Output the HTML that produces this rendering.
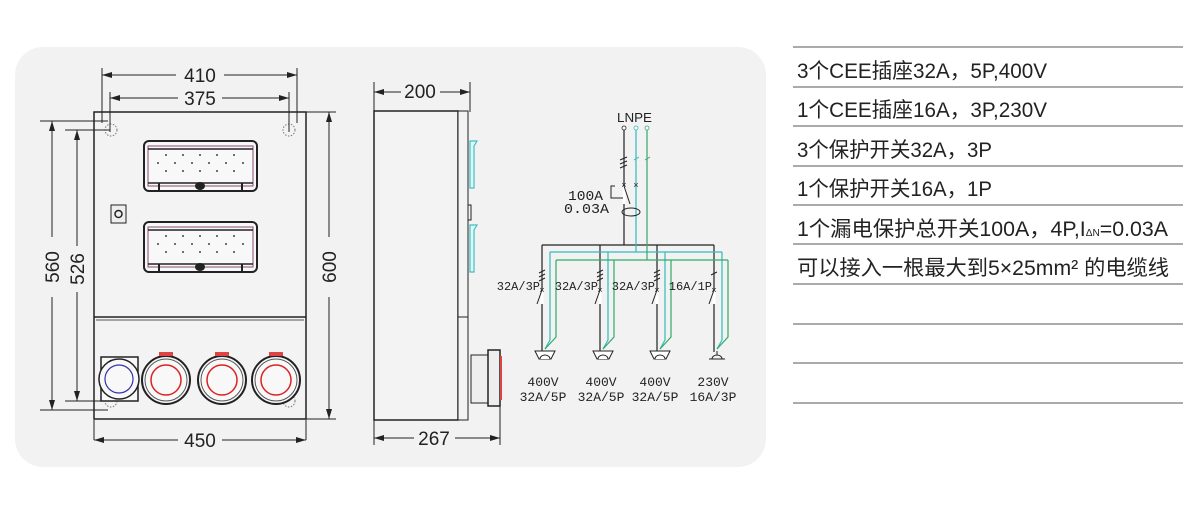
<!DOCTYPE html>
<html><head><meta charset="utf-8"><style>
html,body{margin:0;padding:0;background:#fff;}
svg{display:block;}
.t{font-family:"Liberation Sans","Noto Sans CJK SC",sans-serif;}
.m{font-family:"Liberation Mono",monospace;}
</style></head><body>
<svg width="1199" height="514" viewBox="0 0 1199 514" xmlns="http://www.w3.org/2000/svg">
<defs>
<marker id="a" viewBox="0 0 10 6" refX="10" refY="3" markerWidth="10" markerHeight="6" orient="auto-start-reverse"><path d="M0,0L10,3L0,6z" fill="#222"/></marker>
<g id="mod">
<rect x="0" y="0" width="113" height="50" rx="5" fill="#f8f8f8" stroke="#222" stroke-width="2"/>
<rect x="4" y="5" width="105" height="40" fill="none" stroke="#8a4a70" stroke-width="1"/>
<line x1="4" y1="8" x2="109" y2="8" stroke="#222" stroke-width="1.5"/>
<line x1="4" y1="42" x2="109" y2="42" stroke="#222" stroke-width="1.5"/>
<g fill="#444"><circle cx="22" cy="14" r="1"/><circle cx="39" cy="14" r="1"/><circle cx="56" cy="14" r="1"/><circle cx="73" cy="14" r="1"/><circle cx="90" cy="14" r="1"/>
<circle cx="14" cy="22" r="1"/><circle cx="31" cy="22" r="1"/><circle cx="48" cy="22" r="1"/><circle cx="65" cy="22" r="1"/><circle cx="82" cy="22" r="1"/><circle cx="99" cy="22" r="1"/>
<circle cx="22" cy="30" r="1"/><circle cx="39" cy="30" r="1"/><circle cx="56" cy="30" r="1"/><circle cx="73" cy="30" r="1"/><circle cx="90" cy="30" r="1"/></g>
<ellipse cx="56" cy="45" rx="5" ry="4" fill="#222"/>
<path d="M15,42v8M98,42v8" stroke="#222" stroke-width="2"/>
</g>
<g id="rs"><circle r="24" fill="#f8f8f8" stroke="#222" stroke-width="2"/><circle r="21" fill="none" stroke="#555"/><circle r="15" fill="none" stroke="#d22" stroke-width="1.5"/><rect x="-7" y="-28" width="14" height="4" fill="#d44"/></g>
<g id="sk"><path d="M-10,0h20l-4,8h-12z" fill="#fff" stroke="#222"/><path d="M-5,8a5,4 0 0 1 10,0" fill="#fff" stroke="#222"/></g>
</defs>
<rect x="15" y="47" width="751" height="420" rx="28" fill="#f2f2f2"/>
<!-- front view -->
<rect x="94" y="112" width="212" height="307" fill="#f3f3f3" stroke="#222" stroke-width="1.5"/>
<line x1="94" y1="317" x2="306" y2="317" stroke="#222" stroke-width="1.5"/>
<line x1="96" y1="320" x2="304" y2="320" stroke="#555"/>
<use href="#mod" x="144" y="141"/>
<use href="#mod" x="144" y="222"/>
<rect x="111" y="205" width="15" height="18" fill="#eee" stroke="#222"/><circle cx="118.5" cy="214" r="3.5" fill="none" stroke="#222" stroke-width="1.5"/>
<g fill="none" stroke="#777" stroke-dasharray="1.5,1.5"><circle cx="111" cy="130" r="6"/><circle cx="289" cy="130" r="6"/><circle cx="111" cy="401" r="6"/><circle cx="289" cy="401" r="6"/></g>
<rect x="101" y="357" width="37" height="44" fill="#f8f8f8" stroke="#222" stroke-width="1.5"/>
<circle cx="119" cy="379" r="20" fill="#f8f8f8" stroke="#222" stroke-width="1.5"/><circle cx="119" cy="379" r="14" fill="none" stroke="#33a" stroke-width="1.2"/>
<use href="#rs" x="166" y="380"/><use href="#rs" x="222" y="380"/><use href="#rs" x="276" y="380"/>
<g stroke="#222" stroke-width="1" fill="none">
<path d="M102,68v55M297,68v55M110,92v40M289,92v40M94,420v20M306,420v20M40,121h68M65,130h45M40,410h68M65,401h45M306,112h30M306,419h30"/>
<path d="M102,75h74M224,75h73" marker-start="url(#a)" marker-end="url(#a)"/>
<path d="M110,98h68M222,98h67" marker-start="url(#a)" marker-end="url(#a)"/>
<path d="M94,440h84M222,440h84" marker-start="url(#a)" marker-end="url(#a)"/>
<path d="M52,121v116M52,297v113" marker-start="url(#a)" marker-end="url(#a)"/>
<path d="M77,130v116M77,292v109" marker-start="url(#a)" marker-end="url(#a)"/>
<path d="M329,112v125M329,297v122" marker-start="url(#a)" marker-end="url(#a)"/>
</g>
<g class="t" font-size="19" fill="#222" text-anchor="middle">
<text x="200" y="82">410</text><text x="200" y="105">375</text><text x="200" y="447">450</text>
<text transform="translate(59,267) rotate(-90)">560</text>
<text transform="translate(84,269) rotate(-90)">526</text>
<text transform="translate(336,267) rotate(-90)">600</text>
<text x="420" y="98">200</text><text x="434" y="445">267</text>
</g>
<!-- side view -->
<rect x="374" y="111" width="84" height="309" fill="#f3f3f3" stroke="#222" stroke-width="1.5"/>
<rect x="458" y="111" width="10" height="206" fill="#f3f3f3" stroke="#222"/>
<rect x="458" y="317" width="10" height="103" fill="#f3f3f3" stroke="#222"/>
<path d="M470,141h7l-3,5v42h-4zM470,225h7l-3,5v42h-4z" fill="#dff" stroke="#4bb" stroke-width="1.2"/>
<rect x="468" y="205" width="3" height="15" fill="none" stroke="#222"/>
<rect x="471" y="355" width="17" height="48" fill="#eee" stroke="#222"/>
<rect x="488" y="350" width="12" height="56" fill="#eee" stroke="#222" stroke-width="1.5"/>
<line x1="501" y1="356" x2="501" y2="400" stroke="#d44" stroke-width="2"/>
<g stroke="#222" fill="none"><path d="M374,82v30M470,82v30M374,420v25M500,406v39"/>
<path d="M374,92h27M440,92h30" marker-start="url(#a)" marker-end="url(#a)"/>
<path d="M374,438h40M455,438h45" marker-start="url(#a)" marker-end="url(#a)"/></g>
<!-- schematic -->
<text x="617" y="122" class="t" font-size="13" fill="#222" textLength="35" lengthAdjust="spacingAndGlyphs">LNPE</text>
<g fill="none" stroke-width="1.2">
<path d="M624,128V245M542,245H714M542,245V352M600,245V352M657,245V352M714,245V352" stroke="#222"/>
<path d="M636,128V252M550,252H722M550,252V340L545,349M608,252V340L603,349M665,252V340L660,349M722,252V340L717,349" stroke="#3bb"/>
<path d="M647,128V260M556,260H728M556,260V337L545,349M614,260V337L603,349M671,260V337L660,349M728,260V337L717,349" stroke="#3a6"/>
</g>
<g fill="#fff" stroke="#222" stroke-width="0.8"><circle cx="624" cy="128" r="2"/><circle cx="636" cy="128" r="2" stroke="#3bb"/><circle cx="647" cy="128" r="2" stroke="#3a6"/></g>
<g stroke="#fff" stroke-width="3"><path d="M624,186v18M542,290v14M600,290v14M657,290v14M714,290v14"/></g>
<g stroke="#222" fill="none"><path d="M624,186l6,18M542,290l-5,14M600,290l-5,14M657,290l-5,14M714,290l-5,14"/>
<path d="M620,160l7,-3M620,164l7,-3M620,168l7,-3M539,273l6,-3M539,277l6,-3M539,281l6,-3M597,273l6,-3M597,277l6,-3M597,281l6,-3M654,273l6,-3M654,277l6,-3M654,281l6,-3M711,275l6,-3"/>
<path d="M615,186h-4v12h12"/><ellipse cx="631" cy="212" rx="9" ry="4"/></g>
<g stroke="#3a6"><path d="M645,160l5,-3"/></g><g stroke="#3bb"><path d="M634,160l5,-3"/></g>
<g class="m" font-size="9" fill="#222" text-anchor="middle"><text x="624" y="188">×</text><text x="636" y="188">×</text><text x="542" y="293">×</text><text x="600" y="293">×</text><text x="657" y="293">×</text><text x="714" y="293">×</text></g>
<g class="m" fill="#222"><text x="568" y="200" font-size="14" textLength="35" lengthAdjust="spacingAndGlyphs">100A</text><text x="564" y="213" font-size="14" textLength="45" lengthAdjust="spacingAndGlyphs">0.03A</text></g>
<g class="m" font-size="12" fill="#222" text-anchor="end"><text x="540" y="290">32A/3P</text><text x="598" y="290">32A/3P</text><text x="655" y="290">32A/3P</text><text x="712" y="290">16A/1P</text></g>
<use href="#sk" x="545" y="351"/><use href="#sk" x="603" y="351"/><use href="#sk" x="660" y="351"/>
<path d="M709,359h16M717,351v4M712,359a5,4 0 0 1 10,0" fill="none" stroke="#222"/>
<g class="m" font-size="13" fill="#222" text-anchor="middle">
<text x="543" y="386">400V</text><text x="543" y="401">32A/5P</text>
<text x="601" y="386">400V</text><text x="601" y="401">32A/5P</text>
<text x="655" y="386">400V</text><text x="655" y="401">32A/5P</text>
<text x="713" y="386">230V</text><text x="713" y="401">16A/3P</text></g>
<!-- table -->
<g stroke="#aaa" stroke-width="2"><path d="M793,47H1183M793,87H1183M793,126H1183M793,166H1183M793,205H1183M793,244H1183M793,284H1183M793,324H1183M793,363H1183M793,403H1183"/></g>
<g class="t" font-size="21" fill="#222" lengthAdjust="spacingAndGlyphs">
<text x="797" y="78" textLength="250" lengthAdjust="spacingAndGlyphs">3个CEE插座32A，5P,400V</text>
<text x="797" y="117" textLength="250" lengthAdjust="spacingAndGlyphs">1个CEE插座16A，3P,230V</text>
<text x="797" y="157" textLength="195" lengthAdjust="spacingAndGlyphs">3个保护开关32A，3P</text>
<text x="797" y="196" textLength="195" lengthAdjust="spacingAndGlyphs">1个保护开关16A，1P</text>
<text x="797" y="236" textLength="371" lengthAdjust="spacingAndGlyphs">1个漏电保护总开关100A，4P,I<tspan font-size="10">ΔN</tspan>=0.03A</text>
<text x="797" y="275" textLength="372" lengthAdjust="spacingAndGlyphs">可以接入一根最大到5×25mm² 的电缆线</text>
</g>
</svg>
</body></html>
